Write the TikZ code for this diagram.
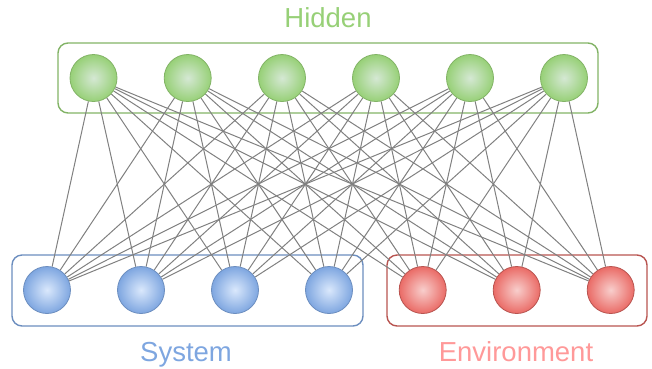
\documentclass[tikz,border=0pt]{standalone}
\usepackage{fontspec}
\setmainfont{Liberation Sans}
\usetikzlibrary{backgrounds}
\definecolor{gfill}{HTML}{97D077}
\definecolor{gin}{HTML}{D5E8D4}
\definecolor{gline}{HTML}{82B366}
\definecolor{bfill}{HTML}{7EA6E0}
\definecolor{bin}{HTML}{DAE8FC}
\definecolor{bline}{HTML}{6C8EBF}
\definecolor{rfill}{HTML}{EA6B66}
\definecolor{rin}{HTML}{F8CECC}
\definecolor{rline}{HTML}{B85450}
\definecolor{edgec}{HTML}{808080}
\definecolor{envtext}{HTML}{FF9999}
\tikzset{
  unit/.style={circle, minimum size=47pt, inner sep=0pt, line width=0.8pt},
  hid/.style={unit, draw=gline, inner color=gin, outer color=gfill},
  sys/.style={unit, draw=bline, inner color=bin, outer color=bfill},
  env/.style={unit, draw=rline, inner color=rin, outer color=rfill},
  grp/.style={rectangle, rounded corners=10pt, line width=1.4pt, inner sep=0pt},
  conn/.style={draw=edgec, line width=1pt},
  lbl/.style={font=\fontsize{27.5}{31}\selectfont, anchor=base}
}
\begin{document}
\begin{tikzpicture}[x=1pt,y=-1pt]
\useasboundingbox (0,0) rectangle (652,368);
% units
\foreach \i/\x in {1/93.5,2/187.7,3/282,4/376,5/470,6/564}
  \node[hid] (h\i) at (\x,78) {};
\foreach \i/\x in {1/47,2/141,3/235,4/329}
  \node[sys] (s\i) at (\x,290) {};
\foreach \i/\x in {1/422.7,2/516.7,3/610.7}
  \node[env] (e\i) at (\x,290) {};
\begin{scope}[on background layer]
  \node[grp, draw=gline, minimum width=540pt, minimum height=70pt] (hbox) at (328,78) {};
  \node[grp, draw=bline, minimum width=351pt, minimum height=71pt] (sbox) at (187.5,290.5) {};
  \node[grp, draw=rline, minimum width=260pt, minimum height=71pt] (ebox) at (517,290.5) {};
  \foreach \i in {1,...,6}{
    \foreach \j in {1,...,4}
      \draw[conn] (h\i) -- (s\j);
    \foreach \j in {1,...,3}
      \draw[conn] (h\i) -- (e\j);
  }
\end{scope}
% labels
\node[lbl, text=gfill] (thid) at (328,27) {Hidden};
\node[lbl, text=bfill] (tsys) at (186,361) {System};
\node[lbl, text=envtext] (tenv) at (516,361) {Environment};
\end{tikzpicture}
\end{document}
